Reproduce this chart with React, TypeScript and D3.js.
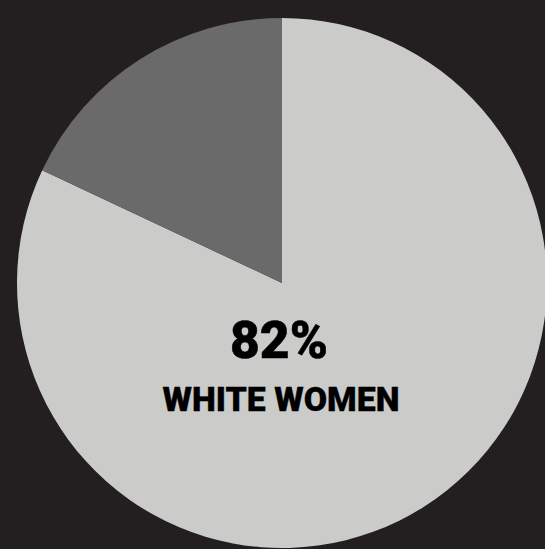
import React from "react";
import * as d3 from "d3";

const categories = ["White women", "Other"];
const values = [82, 18];
const colors = ["#cbcbc9", "#6a6a6a"];
const labelValue = "82%";
const labelText = "WHITE WOMEN";

const W = 545;
const H = 549;

export default function App() {
  const cx = 282;
  const cy = 283;
  const r = 265;
  const pie = d3.pie<number>().sort(null).value((d) => d)(values);
  const arc = d3.arc<d3.PieArcDatum<number>>().innerRadius(0).outerRadius(r);
  return (
    <svg
      width={W}
      height={H}
      style={{ position: "fixed", left: 0, top: 0, display: "block" }}
    >
      <rect width={W} height={H} fill="#231f20" />
      <g transform={`translate(${cx},${cy})`}>
        {pie.map((p, i) => (
          <path key={categories[i]} d={arc(p) || ""} fill={colors[i]} />
        ))}
      </g>
      <text
        x={279}
        y={358}
        textAnchor="middle"
        fontFamily="Roboto, 'Liberation Sans', sans-serif"
        fontWeight={900}
        fontSize={52.5}
        fill="#000"
        stroke="#000"
        strokeWidth={0.5}
        textLength={98}
        lengthAdjust="spacingAndGlyphs"
      >
        {labelValue}
      </text>
      <text
        x={281}
        y={410.5}
        textAnchor="middle"
        fontFamily="Roboto, 'Liberation Sans', sans-serif"
        fontWeight={900}
        fontSize={32.5}
        fill="#000"
        stroke="#000"
        strokeWidth={0.3}
        textLength={237}
        lengthAdjust="spacingAndGlyphs"
      >
        {labelText}
      </text>
    </svg>
  );
}
